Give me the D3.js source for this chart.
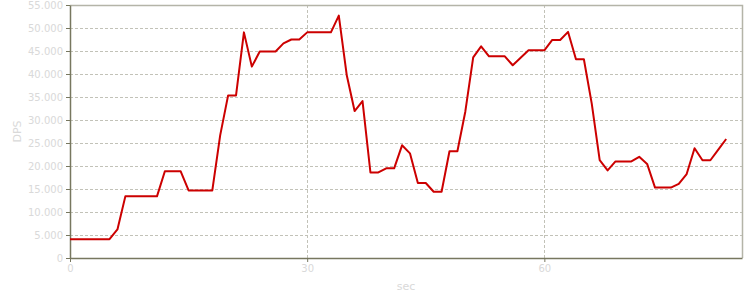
<!DOCTYPE html>
<html>
<head>
<meta charset="utf-8">
<script src="https://cdn.jsdelivr.net/npm/d3@7"></script>
<style>
  body { margin: 0; background: #fff; }
  text { font-family: "DejaVu Sans", Verdana, sans-serif; font-size: 10px; fill: #d9d9d9; }
  .grid line { stroke: #c2c2b8; stroke-dasharray: 3,2; }
  .axis path, .axis line { stroke: #77775f; }
</style>
</head>
<body>
<svg id="chart" width="750" height="300"></svg>
<script>
//
// DPS per second
var secs = d3.range(0, 84),
    dps = [4100, 4100, 4100, 4100, 4100, 4100, 6200, 13400, 13400, 13400,
           13400, 13400, 18850, 18850, 18850, 14700, 14700, 14700, 14700, 26700,
           35350, 35350, 49050, 41600, 44900, 44900, 44900, 46650, 47500, 47500,
           49050, 49050, 49050, 49050, 52700, 39800, 31950, 34100, 18600, 18600,
           19500, 19500, 24500, 22750, 16300, 16300, 14400, 14400, 23200, 23200,
           31800, 43600, 46000, 43850, 43850, 43850, 41900, 43550, 45150, 45150,
           45150, 47400, 47400, 49150, 43200, 43200, 33500, 21300, 19050, 21000,
           21000, 21000, 22000, 20450, 15300, 15300, 15300, 16100, 18250, 23850,
           21250, 21250, 23550, 25870],
    xTicks = [0, 30, 60],
    yTicks = d3.range(0, 55001, 5000);

var svg = d3.select('#chart'),
    margin = {top: 5, right: 8, bottom: 42, left: 70},
    width = 750 - margin.left - margin.right,
    height = 300 - margin.top - margin.bottom,
    g = svg.append('g').attr('transform', 'translate(' + margin.left + ',' + margin.top + ')');

var x = d3.scaleLinear().domain([0, 85]).range([0, width]),
    y = d3.scaleLinear().domain([0, 55000]).range([height, 0]),
    fmt = function(d) { return d3.format(',')(d).replace(/,/g, '.'); };

// grid
g.append('g').attr('class', 'grid')
  .selectAll('line').data(yTicks.slice(1)).enter().append('line')
    .attr('x1', 0).attr('x2', width)
    .attr('y1', function(d) { return Math.round(y(d)) + 0.5; })
    .attr('y2', function(d) { return Math.round(y(d)) + 0.5; });
g.append('g').attr('class', 'grid')
  .selectAll('line').data(xTicks.slice(1)).enter().append('line')
    .attr('y1', 0).attr('y2', height)
    .attr('x1', function(d) { return Math.round(x(d)) + 0.5; })
    .attr('x2', function(d) { return Math.round(x(d)) + 0.5; });

// border top/right
g.append('path')
  .attr('d', 'M0,0.5 H' + (width + 0.5) + ' V' + height)
  .attr('fill', 'none').attr('stroke', '#b4b4a8').attr('stroke-width', 1.5);

// axes
var yAxis = g.append('g').attr('class', 'axis')
  .call(d3.axisLeft(y).tickValues(yTicks).tickFormat(fmt).tickSize(4).tickSizeOuter(0));
var xAxis = g.append('g').attr('class', 'axis')
  .attr('transform', 'translate(0,' + height + ')')
  .call(d3.axisBottom(x).tickValues(xTicks).tickSize(4).tickSizeOuter(0));
svg.selectAll('.axis path').attr('stroke-width', 1.5);
yAxis.selectAll('text').attr('x', -7).attr('fill', null);
xAxis.selectAll('text').attr('y', 7).attr('fill', null);
svg.selectAll('.axis .tick line').attr('stroke', '#77775f');

// line
g.append('path')
  .datum(secs)
  .attr('fill', 'none')
  .attr('stroke', '#cc0000')
  .attr('stroke-width', 2)
  .attr('stroke-linejoin', 'round')
  .attr('d', d3.line()
    .x(function(d) { return x(d); })
    .y(function(d, i) { return y(dps[i]); }));

// titles
svg.append('text')
  .attr('transform', 'translate(21,' + (margin.top + height / 2) + ') rotate(-90)')
  .attr('text-anchor', 'middle')
  .style('font-size', '11px')
  .text('DPS');
svg.append('text')
  .attr('x', margin.left + width / 2).attr('y', 290)
  .attr('text-anchor', 'middle')
  .style('font-size', '11px')
  .text('sec');
</script>
</body>
</html>
